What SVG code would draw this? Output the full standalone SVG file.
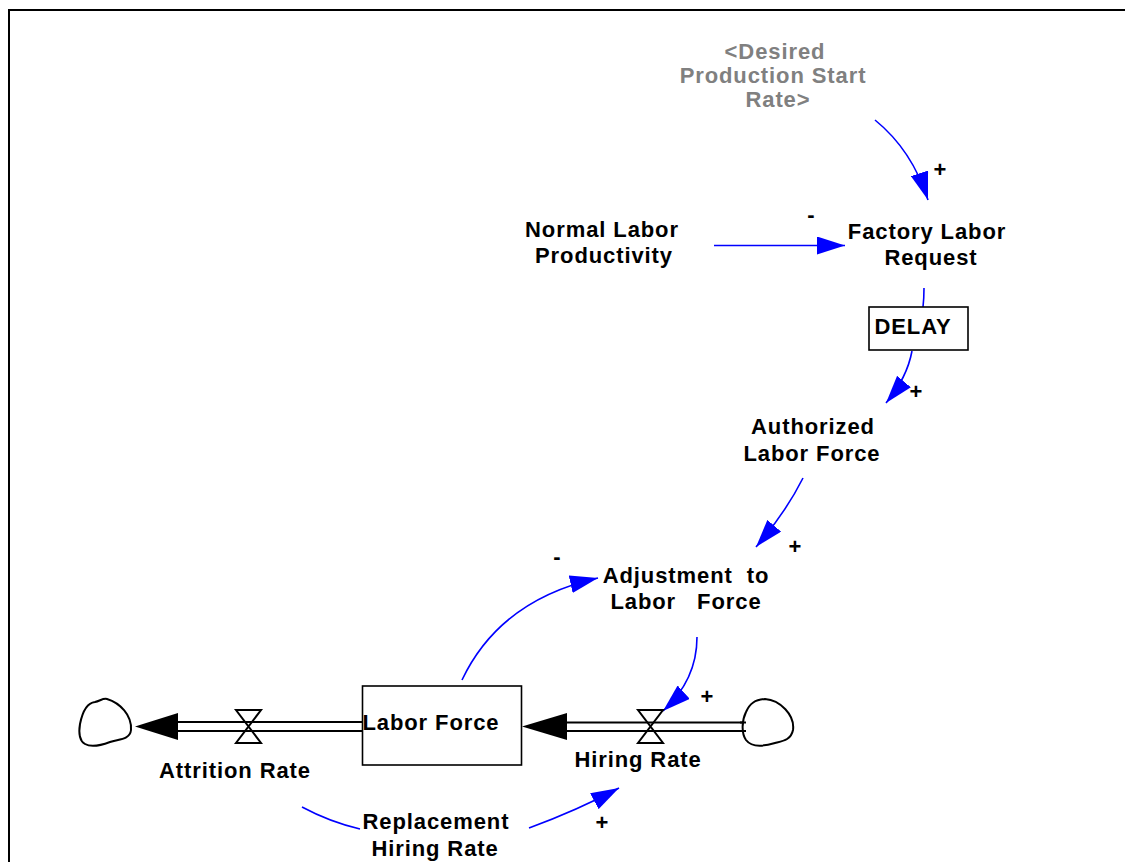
<svg xmlns="http://www.w3.org/2000/svg" width="1125" height="862" viewBox="0 0 1125 862">
<style>
text{font-family:"Liberation Sans",Arial,Helvetica,sans-serif;font-weight:bold;font-size:22px;fill:#000;text-anchor:middle;letter-spacing:0.9px;white-space:pre}
.ghost{fill:#808080}
.pol{letter-spacing:0}
.link{fill:none;stroke:#0000ff;stroke-width:1.6;marker-end:url(#arr)}
.plain{fill:none;stroke:#0000ff;stroke-width:1.6}
.pipe{stroke:#000;stroke-width:2;fill:none}
.valve{fill:none;stroke:#000;stroke-width:2;stroke-linejoin:miter}
.cloud{fill:#fff;stroke:#000;stroke-width:2}
.box{fill:#fff;stroke:#000;stroke-width:1.6}
</style>
<defs>
<marker id="arr" markerUnits="userSpaceOnUse" markerWidth="30" markerHeight="18" refX="28" refY="9" orient="auto">
<path d="M0,0 L28,9 L0,18 Z" fill="#0000ff"/>
</marker>
</defs>
<rect width="1125" height="862" fill="#fff"/>
<path d="M9,862 V10 H1125" fill="none" stroke="#000" stroke-width="2"/>

<g id="connectors">
<path class="link" d="M875,120 Q912,150 928,200"/>
<path class="link" d="M714,245.5 L845,245.5"/>
<path class="plain" d="M924,288 Q924,298 923,307"/>
<path class="link" d="M912,351 Q907,378 886,403"/>
<path class="link" d="M803,478 Q786,512 756,547"/>
<path class="link" d="M462,680 Q500,600 598,578"/>
<path class="link" d="M697,637 Q697,680 663,711"/>
<path class="plain" d="M302,807 Q330,822 360,829"/>
<path class="link" d="M529,828 Q578,810 619,788"/>
<text class="pol" x="940" y="177">+</text>
<text class="pol" x="811" y="222">-</text>
<text class="pol" x="916" y="399">+</text>
<text class="pol" x="795" y="554">+</text>
<text class="pol" x="557" y="564">-</text>
<text class="pol" x="707" y="704">+</text>
<text class="pol" x="602" y="830">+</text>
</g>

<g id="desired_production_start_rate">
<text class="ghost" x="775" y="59">&lt;Desired</text>
<text class="ghost" x="773" y="83">Production Start</text>
<text class="ghost" x="778" y="107">Rate&gt;</text>
</g>

<g id="normal_labor_productivity">
<text x="602" y="237">Normal Labor</text>
<text x="604" y="263">Productivity</text>
</g>

<g id="factory_labor_request">
<text x="927" y="239">Factory Labor</text>
<text x="931" y="265">Request</text>
</g>

<g id="delay">
<rect class="box" x="869" y="307" width="99" height="43"/>
<text x="913" y="334">DELAY</text>
</g>

<g id="authorized_labor_force">
<text x="813" y="434">Authorized</text>
<text x="812" y="461">Labor Force</text>
</g>

<g id="adjustment_to_labor_force">
<text x="686" y="583">Adjustment  to</text>
<text x="686" y="609">Labor   Force</text>
</g>

<g id="labor_force">
<rect class="box" x="362.5" y="686" width="159" height="79"/>
<text x="431" y="730">Labor Force</text>
</g>

<g id="attrition_rate">
<line class="pipe" x1="178" y1="722" x2="362" y2="722"/>
<line class="pipe" x1="178" y1="731" x2="362" y2="731"/>
<polygon points="135,726.5 178,713 178,740" fill="#000"/>
<path class="valve" d="M236,710 L261,710 L236,743 L261,743 Z"/>
<text x="235" y="778">Attrition Rate</text>
</g>

<g id="attrition_sink">
<path class="cloud" d="M107,699 C120,703 132,715 131,730 C130,740 118,739 110,742 C102,745 92,748 85,744 C78,740 79,730 80,724 C82,714 86,703 95,702 C100,701 103,698 107,699 Z"/>
</g>

<g id="hiring_rate">
<line class="pipe" x1="567" y1="722.5" x2="745" y2="722.5"/>
<line class="pipe" x1="567" y1="731" x2="745" y2="731"/>
<polygon points="522,726.5 567,713 567,740" fill="#000"/>
<path class="valve" d="M638,710 L663,710 L638,743 L663,743 Z"/>
<text x="638" y="767">Hiring Rate</text>
</g>

<g id="hiring_source">
<path class="cloud" d="M765,699 C780,700 795,715 793,730 C791,740 783,741 775,743 C765,746 752,748 746,740 C741,733 742,720 746,712 C750,703 755,700 765,699 Z"/>
<line class="pipe" x1="740" y1="722.5" x2="746" y2="722.5"/>
<line class="pipe" x1="740" y1="731" x2="746" y2="731"/>
</g>

<g id="replacement_hiring_rate">
<text x="436" y="829">Replacement</text>
<text x="435" y="856">Hiring Rate</text>
</g>
</svg>
